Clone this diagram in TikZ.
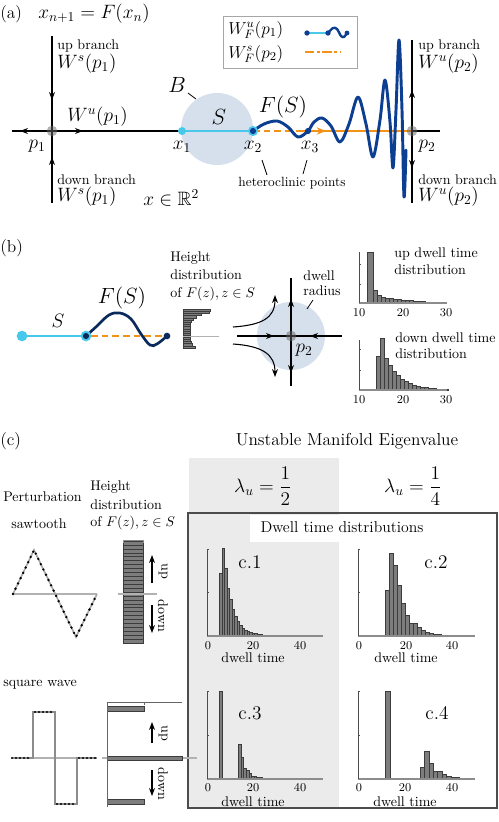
\RequirePackage{fix-cm}
\documentclass[tikz,border=0pt]{standalone}
\usepackage{amsmath,amssymb}
\usepackage{fontspec}
\usetikzlibrary{arrows.meta}
\definecolor{circ}{RGB}{214,224,236}
\definecolor{cy}{RGB}{72,200,234}
\definecolor{navy}{RGB}{12,62,145}
\definecolor{navyb}{RGB}{10,42,92}
\definecolor{orng}{RGB}{242,146,22}
\definecolor{colgray}{RGB}{235,235,235}
\definecolor{barfill}{RGB}{125,125,125}
\definecolor{baredge}{RGB}{60,60,60}
\newcommand\myhist[4]{\foreach \h [count=\i from 0] in {#4} {\draw[bar] ({#1+\i*#2},#3) rectangle ++(#2,-\h);}}
\begin{document}
\begin{tikzpicture}[x=0.75pt,y=-0.75pt,
  tx/.style={font=\fontsize{10.5}{12}\selectfont, inner sep=0pt},
  tl/.style={font=\fontsize{10.5}{12}\selectfont, inner sep=0pt},
  mt/.style={font=\fontsize{14.5}{16}\selectfont, inner sep=0pt},
  big/.style={font=\fontsize{16.5}{18}\selectfont, inner sep=0pt},
  tk/.style={font=\fontsize{9}{10}\selectfont, inner sep=0pt},
  hd/.style={font=\fontsize{13}{15}\selectfont, inner sep=0pt},
  bar/.style={fill=barfill, draw=baredge, line width=0.3pt},
  ax/.style={draw=black!70, line width=0.5pt},
  basel/.style={draw=black!45, line width=1pt},
  arr/.style={-{Stealth[length=6pt,width=4.5pt]}, line width=0.8pt},
  wave/.style={navy, line width=2.2pt, line cap=round, line join=round},
  pdot/.style={fill=black!60, opacity=0.5},
  thin/.style={line width=0.8pt}]
\useasboundingbox (0,0) rectangle (499,822);

% ================= panel (a) =================
\node[hd,anchor=west] (la) at (0,14) {(a)};
\node[mt,anchor=west] (map) at (38,14) {$x_{n+1}=F(x_n)$};
\coordinate (p1) at (52,131);
\coordinate (p2) at (412,131);
\coordinate (x1) at (182,131);
\coordinate (x2) at (253,131);
\coordinate (x3) at (308,131);
\coordinate (bc) at (217,129);
\fill[circ] (bc) circle (27pt);
\draw[thin] (12,131) -- (x1);
\draw[thin] (52,36) -- (52,203);
\draw[arr] (40,131) -- (20,131);
\draw[arr] (66,131) -- (83,131);
\draw[arr] (52,85) -- (52,100);
\draw[arr] (52,172) -- (52,157);
\fill[pdot] (p1) circle (4pt);
\node[tx,anchor=west] (ub1) at (57,46) {up branch};
\node[mt,anchor=west] (ws1) at (57,64) {$W^s(p_1)$};
\node[mt,anchor=west] (wu1) at (67,117) {$W^u(p_1)$};
\node[mt] (p1l) at (37,146) {$p_1$};
\node[tx,anchor=west] (db1) at (57,180) {down branch};
\node[mt,anchor=west] (ws1b) at (57,197) {$W^s(p_1)$};
\node[mt,anchor=west] (xr) at (143,198) {$x\in\mathbb{R}^2$};
\node[big] (bl) at (177,85) {$B$};
\draw[line width=0.6pt] (188,93) -- (196,99);
\node[big] (sl) at (219,117) {$S$};
% segments
\draw[cy, line width=1.8pt] (x1) -- (x2);
\draw[orng, line width=1.8pt, dash pattern=on 5pt off 3pt] (x2) -- (300,131);
\draw[orng, line width=1.8pt] (300,131) -- (p2);
\draw[orng, line width=1.8pt, -{Stealth[length=7pt,width=5.5pt]}] (310,131) -- (326,131);
\draw[thin] (p2) -- (440,131);
% wave
\draw[wave] plot[smooth,tension=0.55] coordinates {(253,131) (264,124) (277,121) (288,127) (298,137) (308,131) (314,122) (322,118) (331,126) (340,142) (349,124) (358,97) (366,124) (373,157) (380,120) (385,80) (390,122) (393,168) (396,110) (399,40) (402,110) (404,197) (406,150)};
\fill[cy] (x1) circle (3pt);
\fill[cy] (x2) circle (3.8pt);
\fill[navy] (x2) circle (2.3pt);
\fill[navy] (x3) circle (2.3pt);
\node[mt] (x1l) at (182,147) {$x_1$};
\node[mt] (x2l) at (253,147) {$x_2$};
\node[mt] (x3l) at (310,147) {$x_3$};
\node[big] (fsl) at (283,107) {$F(S)$};
\node[tx,font=\fontsize{10}{12}\selectfont] (het) at (292,183) {heteroclinic points};
\draw[line width=0.6pt] (262,160) -- (267,175);
\draw[line width=0.6pt] (307,160) -- (303,174);
% p2
\draw[thin] (412,40) -- (412,203);
\draw[arr] (412,110) -- (412,90);
\draw[arr] (412,150) -- (412,168);
\fill[pdot] (p2) circle (4pt);
\node[tx,anchor=west] (ub2) at (418,46) {up branch};
\node[mt,anchor=west] (wu2) at (418,64) {$W^u(p_2)$};
\node[mt] (p2l) at (427,146) {$p_2$};
\node[tx,anchor=west] (db2) at (418,180) {down branch};
\node[mt,anchor=west] (wu2b) at (418,197) {$W^u(p_2)$};
% legend
\draw[black!35, line width=0.6pt] (223,16) rectangle (357,68);
\node[anchor=west,inner sep=0pt,font=\fontsize{13}{15}\selectfont] (lg1) at (228,30) {$W^{u}_{F}(p_1)$};
\node[anchor=west,inner sep=0pt,font=\fontsize{13}{15}\selectfont] (lg2) at (228,54) {$W^{s}_{F}(p_2)$};
\draw[cy, line width=1.6pt] (307,33) -- (328,33);
\draw[wave, line width=1.8pt] plot[smooth] coordinates {(328,33) (333,28) (337,29) (341,36) (344,37) (347,33)};
\fill[navy] (307,33) circle (2pt);
\fill[navy] (328,33) circle (2pt);
\fill[navy] (347,33) circle (1.8pt);
\draw[orng, line width=1.6pt, dash pattern=on 7pt off 2pt on 2pt off 2pt] (305,52) -- (340,52);

% ================= panel (b) =================
\node[hd,anchor=west] (lb) at (0,248) {(b)};
\coordinate (s1) at (22,336);
\coordinate (s2) at (86,336);
\coordinate (s3) at (167,336);
\draw[cy, line width=1.6pt] (s1) -- (s2);
\draw[orng, line width=1.6pt, dash pattern=on 5pt off 3pt] (91,336) -- (163,336);
\draw[navyb, line width=2pt, line cap=round] plot[smooth,tension=0.6] coordinates {(86,336) (97,326) (109,315) (120,313) (131,319) (141,334) (150,345) (157,344) (167,336)};
\fill[cy] (s1) circle (4pt);
\fill[cy] (s2) circle (4pt);
\fill[navyb] (s2) circle (2.3pt);
\fill[navyb] (s3) circle (2.5pt);
\node[mt] (sb) at (58,321) {$S$};
\node[big] (fsb) at (122,298) {$F(S)$};
\node[tx,anchor=west] (h1) at (170,258) {Height};
\node[tx,anchor=west] (h2) at (170,275) {distribution};
\node[tx,anchor=west] (h3) at (170,294) {of $F(z), z\in S$};
% mini histogram
\foreach \yy/\xe in {309/210,311.2/209,313.4/201,315.6/196,317.8/193,320/191.5,322.2/190.5,324.4/190,326.6/190,328.8/190,331/190,333.2/190,337/190,339.2/190,341.4/191,343.6/192,345.8/195}
  {\draw[bar] (183,\yy) rectangle (\xe,\yy+2.2);}
\draw[black!30, line width=0.6pt] (183,336) -- (219,336);
% p2 neighbourhood
\coordinate (q2) at (291,336);
\fill[circ] (q2) circle (25.5pt);
\draw[thin] (291,278) -- (291,386);
\draw[thin] (237,336) -- (342,336);
\draw[arr] (291,314) -- (291,299);
\draw[arr] (291,358) -- (291,373);
\draw[arr] (258,336) -- (274,336);
\draw[arr] (326,336) -- (310,336);
\draw[arr] (233,327) .. controls (262,325) and (275,318) .. (275,295);
\draw[arr] (233,344) .. controls (262,346) and (275,354) .. (275,377);
\fill[pdot] (q2) circle (4pt);
\node[mt] (p2b) at (304,350) {$p_2$};
\node[tx,anchor=west] (dw1) at (303,276) {dwell};
\node[tx,anchor=west] (dw2) at (303,291) {radius};
\draw[line width=0.6pt] (313,300) -- (307,309);
% upper histogram
\myhist{367}{6}{303}{51}
\myhist{373}{4}{303}{13,8,6,5,4.5,4,3.5,3,2.5,2.5,2,1.5,1.5,1,1,0.8,0.6}
\draw[basel] (359,303) -- (447,303);
\draw[ax] (359,252) -- (359,303);
\draw[ax] (359,264) -- (361,264);
\draw[ax] (359,284) -- (361,284);
\node[tk] at (359,313) {10};
\node[tk] at (403,313) {20};
\node[tk] at (446,313) {30};
\node[tx,anchor=west] (ud1) at (394,254) {up dwell time};
\node[tx,anchor=west] (ud2) at (394,270) {distribution};
% lower histogram
\myhist{376}{4}{390}{34,52,32,25,19,15,11,9,7,5,4,3,2.5,2,1.5,1.2,1,0.8}
\draw[basel] (359,390) -- (447,390);
\draw[ax] (359,340) -- (359,390);
\draw[ax] (359,349) -- (361,349);
\draw[ax] (359,370) -- (361,370);
\node[tk] at (359,400) {10};
\node[tk] at (403,400) {20};
\node[tk] at (446,400) {30};
\node[tx,anchor=west] (dd1) at (395,338) {down dwell time};
\node[tx,anchor=west] (dd2) at (395,354) {distribution};

% ================= panel (c) =================
\fill[colgray] (189,458) rectangle (339,808);
\node[hd,anchor=west] (lc) at (0,441) {(c)};
\node[tl,font=\fontsize{13}{15}\selectfont] (ume) at (347,441) {Unstable Manifold Eigenvalue};
\node[mt] (lam1) at (263,486) {$\lambda_u=\dfrac{1}{2}$};
\node[mt] (lam2) at (413,486) {$\lambda_u=\dfrac{1}{4}$};
\node[tl,anchor=west] (pert) at (3,497) {Perturbation};
\node[tl] (saw) at (39,524) {sawtooth};
\node[tx,anchor=west] (hc1) at (90,487) {Height};
\node[tx,anchor=west] (hc2) at (90,505) {distribution};
\node[tx,anchor=west] (hc3) at (90,523) {of $F(z), z\in S$};
\fill[white] (250,515) rectangle (339,542);
\draw[black!70, line width=1pt] (188,513) rectangle (497,808);
\node[tl,font=\fontsize{11.8}{14}\selectfont] (dtd) at (342,527) {Dwell time distributions};
% sawtooth
\draw[black!30, line width=1pt] (13,594) -- (97,594);
\draw[black!35, line width=1.2pt] (13,594) -- (34,550) -- (76,637) -- (97,594);
\draw[black, line width=2pt, line cap=round, dash pattern=on 0pt off 4.4pt] (13,594) -- (34,550) -- (76,637) -- (97,594);
% sawtooth height hist
\foreach \i in {0,...,25} {\draw[bar] (123,{541+\i*3.92}) rectangle ++(20,3.92);}
\draw[black!45, line width=0.4pt] (123,543) -- (123,540) -- (143,540) -- (143,543);
\draw[black!30, line width=0.8pt] (118,594) -- (157,594);
\draw[arr] (152,583) -- (152,555);
\draw[arr] (152,605) -- (152,633);
\node[tx,rotate=-90] (up1) at (163,571) {up};
\node[tx,rotate=-90] (dn1) at (163,616) {down};
% square wave
\node[tl,anchor=west] (sqw) at (3,685) {square wave};
\draw[black!30, line width=1pt] (12,758) -- (97,758);
\draw[black!45, line width=1.3pt] (12,758) -- (33,758) -- (33,712) -- (55,712) -- (55,804) -- (77,804) -- (77,758) -- (97,758);
\draw[black, line width=1.7pt, line cap=round, dash pattern=on 0pt off 3pt] (12,758) -- (32,758);
\draw[black, line width=1.7pt, line cap=round, dash pattern=on 0pt off 3pt] (35,712) -- (55,712);
\draw[black, line width=1.7pt, line cap=round, dash pattern=on 0pt off 3pt] (57,804) -- (76,804);
\draw[black, line width=1.7pt, line cap=round, dash pattern=on 0pt off 3pt] (79,758) -- (97,758);
% square wave hist
\draw[black!30, line width=0.8pt] (102,758) -- (197,758);
\draw[bar] (107,706) rectangle (144,711);
\draw[bar] (107,756) rectangle (182,760);
\draw[bar] (107,799) rectangle (144,804);
\draw[black!60, line width=0.5pt] (107,807) -- (107,702) -- (182,702);
\draw[black!60, line width=0.5pt] (144,702) -- (144,705);
\draw[arr] (152,743) -- (152,722);
\draw[arr] (152,770) -- (152,796);
\node[tx,rotate=-90] (up2) at (163,733) {up};
\node[tx,rotate=-90] (dn2) at (163,784) {down};
% c.1
\myhist{219.5}{2.5}{636}{63,88,68,48,37,27,20,15,11,8,6,4.5,3.5,3,2.5,2,1.5,1.2,1,0.8,0.6,0.5}
\draw[basel] (207,636) -- (323,636);
\draw[ax] (209,549) -- (207,549) -- (207,636);
\draw[ax] (207,592) -- (209,592);
\node[tk] at (208,646) {0};
\node[tk] at (253,646) {20};
\node[tk] at (300,646) {40};
\node[tx] at (253,658) {dwell time};
\node[mt] (c1) at (250,562) {c.1};
% c.2
\myhist{385}{4}{636}{46,83,71,51,33,21,13,13,9,6,4,3,2,1.5,1,1,0.7,0.5}
\draw[basel] (358,636) -- (475,636);
\draw[ax] (360,549) -- (358,549) -- (358,636);
\draw[ax] (358,592) -- (360,592);
\node[tk] at (359,646) {0};
\node[tk] at (406,646) {20};
\node[tk] at (452,646) {40};
\node[tx] at (406,658) {dwell time};
\node[mt] (c2) at (436,562) {c.2};
% c.3
\draw[bar] (219,779) rectangle (222.5,691);
\myhist{238.3}{2.6}{779}{35,22,11,9,6,3,2.5,2,1.5,1.2,1,0.8,0.6,0.5}
\draw[basel] (207,779) -- (323,779);
\draw[ax] (209,691) -- (207,691) -- (207,779);
\draw[ax] (207,735) -- (209,735);
\node[tk] at (208,788) {0};
\node[tk] at (253,788) {20};
\node[tk] at (300,788) {40};
\node[tx] at (253,802) {dwell time};
\node[mt] (c3) at (250,713) {c.3};
% c.4
\draw[bar] (385,779) rectangle (390,691);
\myhist{420}{4.4}{779}{12,28,16,8,8,5,3,2,1.5,1,0.8,0.5}
\draw[basel] (358,779) -- (475,779);
\draw[ax] (360,691) -- (358,691) -- (358,779);
\draw[ax] (358,735) -- (360,735);
\node[tk] at (359,788) {0};
\node[tk] at (405,788) {20};
\node[tk] at (452,788) {40};
\node[tx] at (405,802) {dwell time};
\node[mt] (c4) at (437,713) {c.4};
\end{tikzpicture}
\end{document}
